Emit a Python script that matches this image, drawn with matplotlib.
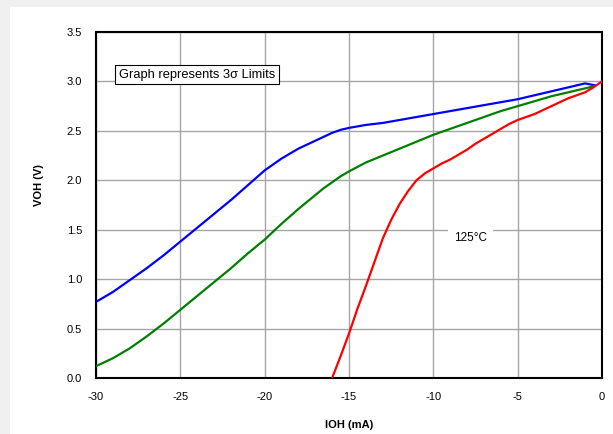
import matplotlib.pyplot as plt

ioh_blue = [-30, -29, -28, -27, -26, -25, -24, -23, -22, -21, -20, -19, -18, -17, -16.5, -16,
            -15.5, -15, -14, -13, -12, -11, -10, -9, -8, -7, -6, -5, -4, -3, -2, -1.5, -1, -0.7, -0.4]
voh_blue = [0.77, 0.87, 0.99, 1.11, 1.24, 1.38, 1.52, 1.66, 1.80, 1.95, 2.10, 2.22, 2.32, 2.40, 2.44, 2.48,
            2.51, 2.53, 2.56, 2.58, 2.61, 2.64, 2.67, 2.70, 2.73, 2.76, 2.79, 2.82, 2.86, 2.90, 2.94, 2.96, 2.98, 2.97, 2.96]

ioh_green = [-30, -29, -28, -27, -26, -25, -24, -23, -22, -21, -20, -19, -18, -17, -16.5, -16,
             -15.5, -15, -14, -13, -12, -11, -10, -9, -8, -7, -6, -5, -4, -3, -2, -1, -0.5]
voh_green = [0.12, 0.20, 0.30, 0.42, 0.55, 0.69, 0.83, 0.97, 1.11, 1.26, 1.40, 1.56, 1.71, 1.85, 1.92, 1.98,
             2.04, 2.09, 2.18, 2.25, 2.32, 2.39, 2.46, 2.52, 2.58, 2.64, 2.70, 2.75, 2.80, 2.85, 2.89, 2.93, 2.95]

ioh_red = [-16, -15.5, -15, -14.5, -14, -13.5, -13, -12.5, -12, -11.5, -11, -10.5, -10, -9.5, -9,
           -8.5, -8, -7.5, -7, -6.5, -6, -5.5, -5, -4.5, -4, -3.5, -3, -2.5, -2, -1.5, -1, -0.6, 0]
voh_red = [0.0, 0.22, 0.45, 0.70, 0.93, 1.17, 1.41, 1.60, 1.76, 1.89, 2.00, 2.07, 2.12, 2.17, 2.21,
           2.26, 2.31, 2.37, 2.42, 2.47, 2.52, 2.57, 2.61, 2.64, 2.67, 2.71, 2.75, 2.79, 2.83, 2.86, 2.89, 2.93, 3.0]

xticks = [-30, -25, -20, -15, -10, -5, 0]
yticks = [0.0, 0.5, 1.0, 1.5, 2.0, 2.5, 3.0, 3.5]

plt.rcParams['font.family'] = ['Liberation Sans', 'DejaVu Sans']

fig = plt.figure(figsize=(6.13, 4.34), dpi=100)
fig.patch.set_facecolor('#f0f0f0')

# white panel inside the gray window frame
bg = fig.add_axes([10 / 613, 0, 603 / 613, 1 - 7 / 434])
bg.set_facecolor('white')
bg.set_xticks([])
bg.set_yticks([])
for s in bg.spines.values():
    s.set_visible(False)

ax = fig.add_axes([96 / 613, 1 - 378 / 434, 506 / 613, 346 / 434])
ax.set_facecolor('white')

ax.plot(ioh_blue, voh_blue, color='#0000ff', lw=1.6, zorder=3)
ax.plot(ioh_green, voh_green, color='#008000', lw=1.6, zorder=3)
ax.plot(ioh_red, voh_red, color='#ff0000', lw=1.6, zorder=4)

ax.set_xlim(-30, 0)
ax.set_ylim(0, 3.5)
ax.set_xticks(xticks)
ax.set_xticklabels([str(t) for t in xticks])
ax.set_yticks(yticks)
ax.set_yticklabels([f"{t:.1f}" for t in yticks])
ax.tick_params(length=0, labelsize=8, pad=10)
ax.grid(True, color='#a6a6a6', lw=1)
ax.set_axisbelow(True)
for s in ax.spines.values():
    s.set_linewidth(1.5)
    s.set_color('black')

ax.set_xlabel("IOH (mA)", fontsize=8, fontweight='bold')
ax.set_ylabel("VOH (V)", fontsize=8, fontweight='bold')
ax.xaxis.set_label_coords(0.5, -0.122)
ax.yaxis.set_label_coords(-0.103, 0.558)

ax.text(-28.62, 3.07, "Graph represents 3σ Limits", fontsize=9.3, va='center', ha='left',
        bbox=dict(facecolor='white', edgecolor='black', lw=0.8, boxstyle='square,pad=0.3'), zorder=5)
ax.text(-7.8, 1.42, "125°C", fontsize=8.5, va='center', ha='center',
        bbox=dict(facecolor='white', edgecolor='none', boxstyle='square,pad=0.5'), zorder=5)

fig.savefig("out.png", dpi=100)
